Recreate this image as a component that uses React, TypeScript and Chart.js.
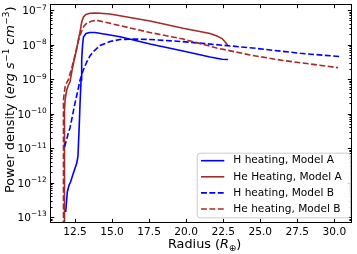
import React, { useEffect, useRef } from 'react';
import { Chart, registerables } from 'chart.js';

Chart.register(...registerables);

// ---- data (radius in Earth radii, power density in erg s^-1 cm^-3) ----
const hA_r = [11.87, 11.91, 11.98, 12.10, 12.20, 12.37, 12.62, 12.70, 12.74, 12.80, 12.84, 12.91, 12.95, 13.01, 13.07, 13.24, 13.51, 13.85, 14.86, 15.54, 17.56, 19.79, 21.61, 22.42, 22.83];
const hA_v = [1.40e-13, 2.23e-13, 5.31e-13, 8.48e-13, 1.03e-12, 1.76e-12, 3.67e-12, 5.86e-12, 1.49e-11, 6.48e-11, 2.01e-10, 9.35e-10, 3.56e-9, 9.68e-9, 1.65e-8, 2.08e-8, 2.23e-8, 2.23e-8, 1.88e-8, 1.67e-8, 1.03e-8, 6.49e-9, 4.35e-9, 3.75e-9, 3.67e-9];

const heA_r = [11.79, 11.79, 11.83, 11.94, 12.03, 12.16, 12.28, 12.40, 12.50, 12.64, 12.72, 12.84, 12.95, 13.07, 13.24, 13.51, 13.85, 14.19, 14.86, 17.56, 19.79, 21.61, 22.08, 22.42, 22.62, 22.79];
const heA_v = [1e-14, 1.26e-10, 2.46e-10, 4.80e-10, 6.27e-10, 8.18e-10, 1.60e-9, 2.91e-9, 4.43e-9, 8.47e-9, 1.35e-8, 2.30e-8, 4.49e-8, 6.27e-8, 7.41e-8, 8.02e-8, 8.19e-8, 8.02e-8, 7.65e-8, 4.80e-8, 2.95e-8, 2.08e-8, 1.76e-8, 1.49e-8, 1.21e-8, 9.68e-9];

const hB_r = [11.79, 11.93, 12.03, 12.16, 12.30, 12.50, 12.70, 12.84, 13.06, 13.29, 13.51, 13.74, 14.19, 14.86, 15.54, 16.55, 17.56, 19.79, 24.31, 27.69, 30.32];
const hB_v = [1.07e-11, 1.71e-11, 2.55e-11, 3.80e-11, 7.41e-11, 2.01e-10, 4.80e-10, 9.35e-10, 1.82e-9, 3.11e-9, 4.65e-9, 6.27e-9, 9.35e-9, 1.22e-8, 1.40e-8, 1.44e-8, 1.40e-8, 1.21e-8, 8.07e-9, 5.56e-9, 4.49e-9];

const heB_r = [11.72, 11.72, 11.76, 11.83, 11.96, 12.05, 12.16, 12.28, 12.50, 12.72, 12.95, 13.11, 13.31, 13.65, 13.99, 14.86, 17.56, 19.79, 22.06, 24.31, 26.54, 30.25];
const heB_v = [1e-14, 2.46e-10, 3.44e-10, 5.86e-10, 8.18e-10, 9.35e-10, 1.40e-9, 2.08e-9, 4.97e-9, 1.26e-8, 2.46e-8, 3.44e-8, 4.20e-8, 4.80e-8, 5.02e-8, 4.11e-8, 2.23e-8, 1.44e-8, 7.93e-9, 4.97e-9, 3.44e-9, 2.13e-9];

const seriesLabels = ['H heating, Model A', 'He Heating, Model A', 'H heating, Model B', 'He heating, Model B'];
const xTicks = [12.5, 15.0, 17.5, 20.0, 22.5, 25.0, 27.5, 30.0];
const yDecades = [-13, -12, -11, -10, -9, -8, -7];
const X_MIN = 10.88;
const X_MAX = 31.19;
const Y_MIN = 6.70e-14;
const Y_MAX = 1.493e-7;

const BLUE = '#0000ff';
const BROWN = '#a52a2a';
const FAM = '"DejaVu Sans", sans-serif';
const TICK_PX = 10.6;
const LABEL_PX = 12.8;
const DASH = [5.9, 2.5];

const styles = [
  { color: BLUE, dash: [] as number[] },
  { color: BROWN, dash: [] as number[] },
  { color: BLUE, dash: DASH },
  { color: BROWN, dash: DASH },
];

type Seg = { t: string; f: string; dy?: number; gap?: number };

function drawSegs(ctx: CanvasRenderingContext2D, segs: Seg[], x0: number, y0: number) {
  let x = x0;
  for (const s of segs) {
    ctx.font = s.f;
    ctx.fillText(s.t, x, y0 + (s.dy || 0));
    x += ctx.measureText(s.t).width + (s.gap || 0);
  }
}

const mplPlugin = {
  id: 'mplDecor',
  afterDatasetsDraw(chart: any) {
    const { ctx, chartArea: ca, scales } = chart;
    const xs = scales.x;
    const ys = scales.y;
    ctx.save();
    ctx.strokeStyle = '#000';
    ctx.lineWidth = 1;
    ctx.setLineDash([]);
    ctx.beginPath();
    const L = Math.round(ca.left) - 0.5;
    const R = Math.round(ca.right) - 0.5;
    const T = Math.round(ca.top) + 0.5;
    const B = Math.round(ca.bottom) - 0.5;
    for (const v of xTicks) {
      const px = Math.round(xs.getPixelForValue(v)) + 0.5;
      ctx.moveTo(px, B); ctx.lineTo(px, B - 3.7);
      ctx.moveTo(px, T); ctx.lineTo(px, T + 3.7);
    }
    for (let d = -14; d <= -6; d++) {
      for (let k = 1; k < 10; k++) {
        const v = k * Math.pow(10, d);
        if (v < Y_MIN || v > Y_MAX) continue;
        const py = Math.round(ys.getPixelForValue(v)) + 0.5;
        const len = k === 1 ? 3.7 : 2.1;
        ctx.moveTo(L, py); ctx.lineTo(L + len, py);
        ctx.moveTo(R, py); ctx.lineTo(R - len, py);
      }
    }
    ctx.stroke();
    ctx.strokeRect(L, T, R - L, B - T);

    // y tick labels: 10 with a raised exponent, positioned by the log scale
    ctx.fillStyle = '#000';
    ctx.textBaseline = 'alphabetic';
    ctx.textAlign = 'left';
    const fBase = `${TICK_PX}px ${FAM}`;
    const fExp = `${(TICK_PX * 0.7).toFixed(2)}px ${FAM}`;
    for (const e of yDecades) {
      const py = ys.getPixelForValue(Math.pow(10, e));
      const expTxt = (e < 0 ? '\u2212' : '') + String(Math.abs(e));
      ctx.font = fExp;
      const we = ctx.measureText(expTxt).width;
      ctx.font = fBase;
      const wb = ctx.measureText('10').width;
      const right = ca.left - 4.3;
      const base = py + 4.3;
      ctx.fillText('10', right - we - wb, base);
      ctx.font = fExp;
      ctx.fillText(expTxt, right - we, base - 4.8);
    }

    // legend (inside axes, lower right)
    const bx = ca.right - 155.3;
    const by = ca.bottom - 70.3;
    const bw = 153.3;
    const bh = 64.6;
    ctx.beginPath();
    if ((ctx as any).roundRect) (ctx as any).roundRect(bx + 0.5, by + 0.5, bw, bh, 3);
    else ctx.rect(bx + 0.5, by + 0.5, bw, bh);
    ctx.fillStyle = 'rgba(255,255,255,0.8)';
    ctx.fill();
    ctx.strokeStyle = '#cccccc';
    ctx.stroke();
    ctx.font = `${TICK_PX}px ${FAM}`;
    ctx.textBaseline = 'middle';
    ctx.textAlign = 'left';
    seriesLabels.forEach((lab, i) => {
      const y = by + 8 + i * 16.1;
      ctx.beginPath();
      ctx.strokeStyle = styles[i].color;
      ctx.lineWidth = 1.6;
      ctx.setLineDash(styles[i].dash);
      ctx.moveTo(bx + 4.3, y);
      ctx.lineTo(bx + 27.6, y);
      ctx.stroke();
      ctx.setLineDash([]);
      ctx.fillStyle = '#000';
      ctx.fillText(lab, bx + 36.6, y);
    });
    ctx.restore();
  },
  afterDraw(chart: any) {
    const { ctx } = chart;
    const N = `${LABEL_PX}px ${FAM}`;
    const I = `italic ${LABEL_PX}px ${FAM}`;
    const S = `${(LABEL_PX * 0.7).toFixed(2)}px ${FAM}`;
    ctx.save();
    ctx.fillStyle = '#000';
    ctx.textAlign = 'left';
    ctx.textBaseline = 'alphabetic';
    // x title
    drawSegs(ctx, [
      { t: 'Radius (', f: N },
      { t: 'R', f: I },
      { t: '\u2295', f: S, dy: 3 },
      { t: ')', f: N },
    ], 168, 248);
    // y title
    ctx.translate(14, 193);
    ctx.rotate(-Math.PI / 2);
    drawSegs(ctx, [
      { t: 'Power density (', f: N },
      { t: 'erg', f: I, gap: 4 },
      { t: 's', f: I, gap: 0.5 },
      { t: '\u22121', f: S, dy: -5, gap: 4 },
      { t: 'cm', f: I, gap: 0.5 },
      { t: '\u22123', f: S, dy: -5 },
      { t: ')', f: N },
    ], 0, 0);
    ctx.restore();
  },
};

export default function App() {
  const ref = useRef<HTMLCanvasElement>(null);
  useEffect(() => {
    if (!ref.current) return;
    const mk = (r: number[], v: number[]) => r.map((x, i) => ({ x, y: v[i] }));
    const data = [mk(hA_r, hA_v), mk(heA_r, heA_v), mk(hB_r, hB_v), mk(heB_r, heB_v)];
    const chart = new Chart(ref.current, {
      type: 'line',
      data: {
        datasets: data.map((d, i) => ({
          label: seriesLabels[i],
          data: d,
          borderColor: styles[i].color,
          backgroundColor: styles[i].color,
          borderWidth: 1.6,
          borderDash: styles[i].dash,
          pointRadius: 0,
          fill: false,
          tension: 0,
          clip: 0,
          order: 3 - i,
        })),
      },
      options: {
        animation: false,
        responsive: false,
        devicePixelRatio: 1,
        layout: { padding: { top: 4, right: 5, left: 0, bottom: 0 } },
        plugins: { legend: { display: false }, tooltip: { enabled: false } },
        scales: {
          x: {
            type: 'linear',
            min: X_MIN,
            max: X_MAX,
            grid: { display: false, drawTicks: false },
            border: { display: false },
            ticks: {
              color: '#000',
              font: { family: FAM, size: TICK_PX },
              padding: 3,
              maxRotation: 0,
              autoSkip: false,
              callback: (v: any) => Number(v).toFixed(1),
            },
            afterBuildTicks: (s: any) => { s.ticks = xTicks.map((value) => ({ value })); },
            afterFit: (s: any) => { s.height = 31; s.paddingLeft = 0; s.paddingRight = 0; },
          },
          y: {
            type: 'logarithmic',
            min: Y_MIN,
            max: Y_MAX,
            grid: { display: false, drawTicks: false },
            border: { display: false },
            ticks: { display: false },
            afterBuildTicks: (s: any) => { s.ticks = yDecades.map((e) => ({ value: Math.pow(10, e) })); },
            afterFit: (s: any) => { s.width = 51; s.paddingTop = 0; s.paddingBottom = 0; },
          },
        },
      },
      plugins: [mplPlugin],
    } as any);
    return () => chart.destroy();
  }, []);
  return (
    <div style={{ position: 'absolute', left: 0, top: 0, width: 357, height: 254, background: '#fff' }}>
      <canvas ref={ref} width={357} height={254} style={{ width: 357, height: 254, display: 'block' }} />
    </div>
  );
}
